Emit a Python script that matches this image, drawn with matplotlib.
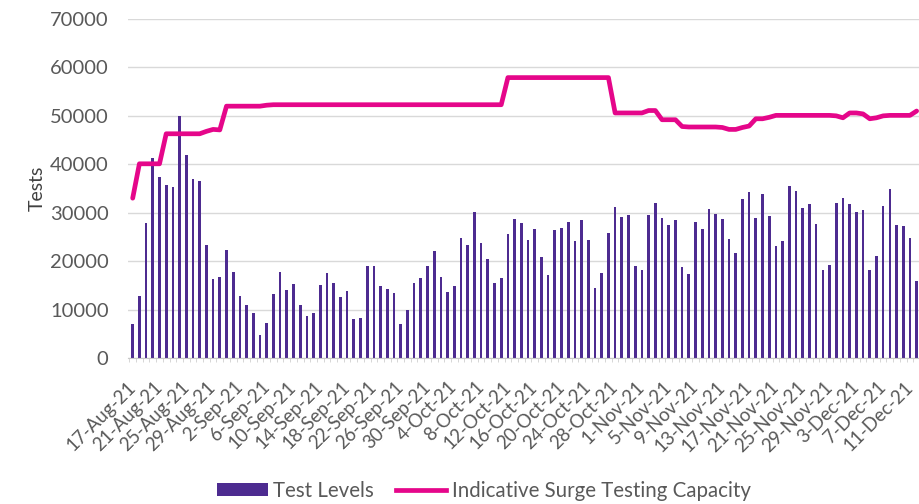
import pandas as pd
import matplotlib.pyplot as plt
import matplotlib.transforms as mtransforms
from matplotlib.patches import Patch
from matplotlib.lines import Line2D

plt.rcParams['font.family'] = ['Lato', 'DejaVu Sans']

# Daily data, 17-Aug-21 onwards
dates = pd.date_range('2021-08-17', periods=118, freq='D')

test_levels = [
    7000, 12800, 27900, 41300, 37300, 35800, 35400, 50000, 41900, 37000,
    36500, 23300, 16400, 16700, 22200, 17700, 12800, 11000, 9250, 4800,
    7300, 13200, 17700, 14100, 15200, 11000, 8700, 9250, 15100, 17500,
    15500, 12500, 13800, 8000, 8200, 19000, 19000, 14900, 14200, 13400,
    7000, 9900, 15500, 16500, 19100, 22000, 16800, 13700, 14900, 24800,
    23400, 30100, 23700, 20500, 15500, 16600, 25700, 28800, 27900, 24300,
    26700, 20800, 17100, 26400, 26800, 28000, 24100, 28400, 24400, 14400,
    17500, 25900, 31100, 29100, 29500, 19100, 18100, 29600, 32000, 28900,
    27500, 28400, 18800, 17400, 28000, 26700, 30800, 29800, 28600, 24600,
    21700, 32900, 34200, 28900, 33800, 29300, 23100, 24200, 35600, 34500,
    30900, 31700, 27700, 18200, 19200, 32000, 33000, 31800, 30100, 30500,
    18200, 21100, 31300, 34800, 27500, 27300, 24800, 15800,
]

surge_capacity = [
    33000, 40100, 40100, 40100, 40100, 46300, 46300, 46300, 46300, 46300,
    46300, 46800, 47200, 47100, 52000, 52000, 52000, 52000, 52000, 52000,
    52200, 52300, 52300, 52300, 52300, 52300, 52300, 52300, 52300, 52300,
    52300, 52300, 52300, 52300, 52300, 52300, 52300, 52300, 52300, 52300,
    52300, 52300, 52300, 52300, 52300, 52300, 52300, 52300, 52300, 52300,
    52300, 52300, 52300, 52300, 52300, 52300, 57900, 57900, 57900, 57900,
    57900, 57900, 57900, 57900, 57900, 57900, 57900, 57900, 57900, 57900,
    57900, 57900, 50600, 50600, 50600, 50600, 50600, 51100, 51100, 49200,
    49200, 49200, 47800, 47700, 47700, 47700, 47700, 47700, 47600, 47200,
    47200, 47600, 47900, 49400, 49400, 49700, 50100, 50100, 50100, 50100,
    50100, 50100, 50100, 50100, 50100, 50000, 49600, 50600, 50600, 50400,
    49400, 49600, 50000, 50100, 50100, 50100, 50100, 51000,
]

tick_labels = [f"{d.day}-{d.strftime('%b')}-21" for d in dates]

bar_color = '#4d2b90'
line_color = '#e5068a'
text_color = '#595959'

fig = plt.figure(figsize=(9.2, 5.04), dpi=100)
ax = fig.add_axes([128 / 920, 1 - 358 / 504, 1 - 128 / 920, (358 - 19) / 504])

x = list(range(len(dates)))
ax.bar(x, test_levels, width=0.4, color=bar_color, zorder=2)
ax.plot(x, surge_capacity, color=line_color, linewidth=3.4,
        solid_joinstyle='round', solid_capstyle='round', zorder=3)

ax.set_xlim(-0.7, 117.2)
ax.set_ylim(0, 70000)
ax.set_yticks(range(0, 70001, 10000))
ax.grid(axis='y', color='#d9d9d9', linewidth=1, zorder=0)
ax.set_axisbelow(True)

ax.set_xticks(x[::4])
ax.set_xticklabels(tick_labels[::4], rotation=45, ha='right', va='center',
                   rotation_mode='anchor', fontsize=13.4, color=text_color)
# nudge the rotated labels a little left so the last one stays inside
shift = mtransforms.ScaledTranslation(-4 / 72, 0, fig.dpi_scale_trans)
for lbl in ax.get_xticklabels():
    lbl.set_transform(lbl.get_transform() + shift)
ax.set_xticks([i + 0.5 for i in range(-1, len(dates))], minor=True)
ax.tick_params(axis='x', which='major', length=0, pad=19)
ax.tick_params(axis='x', which='minor', length=3, color='#d0d0d0')
ax.tick_params(axis='y', length=0, pad=14, labelsize=14.5, labelcolor=text_color)

for side in ['top', 'right', 'left']:
    ax.spines[side].set_visible(False)
ax.spines['bottom'].set_color('#c8c8c8')

ax.set_ylabel('Tests', fontsize=14, color='#404040', labelpad=3)

handles = [
    Patch(facecolor=bar_color, edgecolor='none'),
    Line2D([0], [0], color=line_color, linewidth=3.4),
]
fig.legend(handles, ['Test Levels', 'Indicative Surge Testing Capacity'],
           loc='lower center', bbox_to_anchor=(0.526, -0.03), ncol=2,
           frameon=False, fontsize=14.8, handlelength=2.45, handleheight=0.55,
           handletextpad=0.25, columnspacing=1.1, labelcolor=text_color)

fig.savefig('out.png', dpi=100)
plt.close(fig)
